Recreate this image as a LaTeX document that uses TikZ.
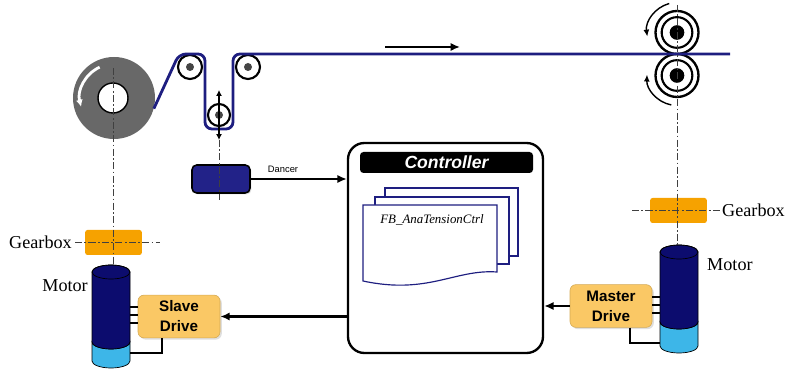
\documentclass[tikz,border=0pt]{standalone}
\usepackage{fontspec}
\setmainfont{Liberation Serif}
\setsansfont{Liberation Sans}
\usepackage{tikz}
\usetikzlibrary{arrows.meta,shadows}
\definecolor{web}{HTML}{1E1E80}
\definecolor{reelgray}{HTML}{686868}
\definecolor{rollerdot}{HTML}{454545}
\definecolor{gearorange}{HTML}{F6A200}
\definecolor{drivefill}{HTML}{FAC865}
\definecolor{motordark}{HTML}{0C0C6E}
\definecolor{motorlight}{HTML}{3DB6E8}
\definecolor{dancerblue}{HTML}{222288}
\tikzset{
  webline/.style={draw=web, line width=2.4pt, rounded corners=6pt},
  axisline/.style={draw=black!75, line width=0.7pt, dash pattern=on 6pt off 2pt on 1.5pt off 2pt},
  sig/.style={draw=black, line width=2pt, -{Latex[length=8pt,width=7pt]}},
  wire/.style={draw=black, line width=1.3pt},
  bar/.style={draw=black, line width=2.2pt},
  roller/.style={circle, draw=black, line width=1.8pt, fill=white, minimum size=0.72cm, inner sep=0},
  hubdot/.style={circle, fill=rollerdot, minimum size=0.24cm, inner sep=0},
  spin/.style={draw=black, line width=1.2pt, -{Latex[length=6pt,width=5pt]}},
  gearbox/.style={rectangle, rounded corners=2pt, fill=gearorange, minimum width=1.7cm, minimum height=0.75cm, inner sep=0},
  drive/.style={rectangle, rounded corners=5pt, fill=drivefill, draw=drivefill!85!black, line width=0.5pt,
    drop shadow={shadow xshift=1.5pt, shadow yshift=-1.5pt, opacity=0.25}, align=center,
    font=\sffamily\bfseries\fontsize{13}{17}\selectfont, minimum width=2.46cm, minimum height=1.28cm},
  motorspan/.style={rectangle, inner sep=0, minimum width=1.14cm, minimum height=3.1cm},
  lbl/.style={font=\fontsize{15.5}{18}\selectfont, inner sep=0},
  fbpage/.style={draw=web, line width=1pt, fill=white}
}
% cylinder of a motor: centre x, top ellipse y, colour split y, bottom ellipse y
\newcommand{\motorcyl}[4]{%
  \filldraw[fill=motorlight, draw=black, line width=0.6pt]
    (#1-19,#3) -- (#1-19,#4) arc[start angle=180, end angle=360, x radius=19, y radius=7]
    -- (#1+19,#3) arc[start angle=0, end angle=-180, x radius=19, y radius=7] -- cycle;
  \filldraw[fill=motordark, draw=black, line width=0.6pt]
    (#1-19,#2) -- (#1-19,#3) arc[start angle=180, end angle=360, x radius=19, y radius=7]
    -- (#1+19,#2) arc[start angle=0, end angle=180, x radius=19, y radius=7] -- cycle;
  \draw[black, line width=0.6pt] (#1,#2) ellipse[x radius=19, y radius=7];
}

\begin{document}
\begin{tikzpicture}[x=0.03cm, y=0.03cm]
  \useasboundingbox (0,0) rectangle (785,373);

  % unwind reel
  \node[circle, fill=reelgray, inner sep=0, minimum size=2.46cm] (reel) at (114,275) {};
  \node[circle, fill=white, draw=black, line width=1.2pt, minimum size=0.9cm] (reelhub) at (113,275) {};
  \draw[white, line width=2.4pt, -{Latex[length=6pt,width=6pt]}]
    (reel.center) ++(115:34) arc[start angle=115, end angle=195, radius=34];

  % guide rollers and dancer
  \node[roller] (guideA) at (190,306) {};
  \node[roller] (guideB) at (248,306) {};
  \node[roller, minimum size=0.66cm] (dancroll) at (219,258) {};
  \foreach \r in {guideA,guideB,dancroll}
    \node[hubdot] at (\r) {};

  % nip rollers
  \foreach \n/\yy in {nipU/340.5, nipL/297.5} {
    \node[circle, draw=black, line width=2pt, fill=white, minimum size=1.29cm] (\n) at (677,\yy) {};
    \node[circle, draw=black, line width=1.8pt, minimum size=0.92cm] at (\n) {};
    \node[circle, fill=black, minimum size=0.44cm, inner sep=0] at (\n) {};
  }
  \draw[spin] (nipU) ++(105:30) arc[start angle=105, end angle=188, radius=30];
  \draw[spin] (nipL) ++(259:30) arc[start angle=259, end angle=178, radius=30];

  % web path
  \draw[webline] (reel.-15) -- (179,319) -- (205,319) -- (205,244) -- (233,244) -- (233,319) -- (730,319);
  \coordinate (flowA) at (385,326);
  \coordinate (flowB) at (460,326);
  \draw[sig] (flowA) -- (flowB);

  % dancer position sensor
  \draw[black, line width=0.9pt, {Latex[length=5pt,width=5pt]}-{Latex[length=5pt,width=5pt]}] (219,283) -- (219,233);
  \node[rectangle, rounded corners=4pt, fill=dancerblue, draw=black, line width=1.3pt,
        drop shadow={shadow xshift=1.2pt, shadow yshift=-1.2pt, opacity=0.25},
        minimum width=1.74cm, minimum height=0.84cm] (dancer) at (221,194) {};
  \draw[axisline] (219,233) -- (219,173);

  % controller
  \node[draw=black, line width=2pt, rounded corners=14pt, minimum width=5.85cm, minimum height=6.3cm] (ctrl) at (445.5,125) {};
  \node[fill=black, rounded corners=3pt, minimum width=5.19cm, minimum height=0.63cm, inner sep=0, text=white,
        font=\sffamily\bfseries\itshape\fontsize{15}{18}\selectfont] (ctrlhead) at (446.5,210.5) {Controller};
  \draw[fbpage] (385,185) rectangle (518,117);
  \draw[fbpage] (375,176) rectangle (509,109);
  \draw[fbpage] (363,168) -- (497,168) -- (497,101) .. controls (455,104) and (428,78) .. (363,92) -- cycle;
  \node[font=\itshape\fontsize{11}{13}\selectfont] (fbname) at (432,153) {FB\_AnaTensionCtrl};

  \node[font=\sffamily\fontsize{8}{9}\selectfont] (dancerlbl) at (283,204) {Dancer};
  \draw[sig] (dancer.east) -- (dancer.east -| ctrl.west);

  % slave side
  \node[gearbox] (gearL) at (113.5,130.5) {};
  \node[lbl, anchor=east] (gearLtxt) at (72,130.5) {Gearbox};
  \motorcyl{111}{101}{31}{12}
  \node[motorspan] (motorL) at (111,56) {};
  \node[lbl, anchor=east] (motorLtxt) at (88,87) {Motor};
  \node[drive] (slave) at (179,56.5) {Slave\\Drive};
  \foreach \y in {66,58,50}
    \draw[bar] (motorL.east |- 0,\y) -- (slave.west |- 0,\y);
  \draw[wire] (slave.south) ++(-17,0) |- (motorL.east |- 0,20);
  \draw[sig] (ctrl.west |- slave.east) -- (slave.east);
  \draw[axisline] (113,305) -- (113,108);
  \draw[axisline] (gearLtxt.east) ++(3,0) -- (160,130.5);

  % master side
  \node[gearbox] (gearR) at (678.5,162.5) {};
  \node[lbl, anchor=west] (gearRtxt) at (722,162.5) {Gearbox};
  \motorcyl{679}{121}{51}{27}
  \node[motorspan] (motorR) at (679,73) {};
  \node[lbl, anchor=west] (motorRtxt) at (707,108) {Motor};
  \node[drive] (master) at (611,67) {Master\\Drive};
  \foreach \y in {76,68,60}
    \draw[bar] (master.east |- 0,\y) -- (motorR.west |- 0,\y);
  \draw[wire] (master.south) ++(19,0) |- (motorR.west |- 0,30);
  \draw[sig] (master.west) -- (master.west -| ctrl.east);
  \draw[axisline] (677,368) -- (677,128);
  \draw[axisline] (632,162.5) -- (gearRtxt.west) ++(-3,0);
\end{tikzpicture}
\end{document}
